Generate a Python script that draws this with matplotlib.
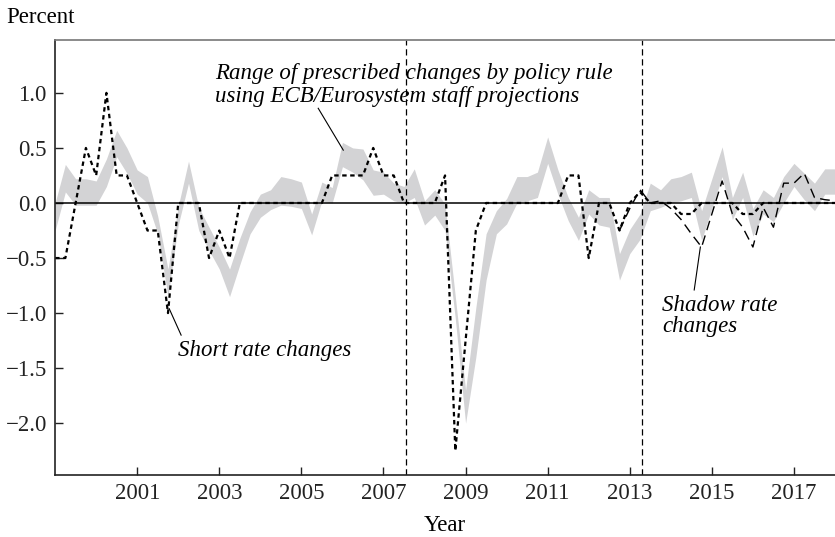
import numpy as np
import matplotlib.pyplot as plt

plt.rcParams['font.family'] = ['Liberation Serif', 'DejaVu Serif']

# quarterly dates, 1999Q1 .. 2018Q1
quarters = 1999.0 + 0.25 * np.arange(77)

# range of prescribed changes by policy rule (lower / upper edge)
rule_low = [
    -0.25, 0.10, -0.02, -0.02, -0.02, 0.15, 0.42, 0.27, 0.08, 0.00,
    -0.28, -0.85, -0.20, 0.18, -0.25, -0.43, -0.60, -0.85, -0.56, -0.28,
    -0.13, -0.06, -0.02, -0.03, -0.05, -0.29, 0.02, 0.00, 0.33, 0.28,
    0.21, 0.07, 0.08, 0.02, 0.00, 0.05, -0.20, -0.11, -0.25, -1.05,
    -2.00, -1.40, -0.70, -0.28, -0.19, 0.00, 0.02, 0.05, 0.36, 0.08,
    -0.16, -0.34, -0.10, -0.20, -0.22, -0.70, -0.46, -0.33, -0.07, -0.04,
    0.00, 0.02, 0.05, -0.34, -0.05, 0.24, -0.15, 0.05, -0.30, -0.10,
    -0.17, 0.00, 0.15, 0.03, -0.07, 0.08, 0.08,
]
rule_high = [
    0.00, 0.35, 0.22, 0.22, 0.20, 0.40, 0.66, 0.50, 0.30, 0.24,
    -0.12, -0.60, -0.03, 0.38, -0.04, -0.22, -0.40, -0.60, -0.32, -0.08,
    0.08, 0.12, 0.24, 0.22, 0.19, -0.10, 0.19, 0.14, 0.55, 0.50,
    0.49, 0.30, 0.28, 0.18, 0.15, 0.31, 0.02, 0.12, -0.01, -0.85,
    -1.70, -0.95, -0.28, -0.07, 0.04, 0.24, 0.24, 0.28, 0.60, 0.30,
    0.05, -0.13, 0.12, 0.05, 0.05, -0.46, -0.24, -0.10, 0.18, 0.12,
    0.22, 0.24, 0.28, -0.07, 0.22, 0.51, 0.05, 0.28, -0.05, 0.12,
    0.05, 0.24, 0.36, 0.27, 0.18, 0.31, 0.31,
]

# short rate changes
short_rate = [
    -0.50, -0.50, 0.00, 0.50, 0.25, 1.00, 0.25, 0.25, 0.00, -0.25,
    -0.25, -1.00, 0.00, 0.00, 0.00, -0.50, -0.25, -0.50, 0.00, 0.00,
    0.00, 0.00, 0.00, 0.00, 0.00, 0.00, 0.00, 0.25, 0.25, 0.25,
    0.25, 0.50, 0.25, 0.25, 0.00, 0.00, 0.00, 0.00, 0.25, -2.25,
    -1.25, -0.25, 0.00, 0.00, 0.00, 0.00, 0.00, 0.00, 0.00, 0.00,
    0.25, 0.25, -0.50, 0.00, 0.00, -0.25, 0.00, 0.10, 0.00, 0.00,
    0.00, -0.10, -0.10, 0.00, 0.00, 0.00, 0.00, -0.10, -0.10, 0.00,
    0.00, 0.00, 0.00, 0.00, 0.00, 0.00, 0.00,
]

# shadow rate changes, 2012Q4 .. 2018Q1
shadow_quarters = quarters[55:]
shadow_rate = [
    -0.25, -0.05, 0.12, 0.00, 0.02, -0.05, -0.15, -0.28, -0.40, -0.10,
    0.20, -0.10, -0.22, -0.40, -0.04, -0.22, 0.18, 0.18, 0.27, 0.05,
    0.03, 0.02,
]

regime_breaks = [2007.55, 2013.3]
year_ticks = list(range(2001, 2018, 2))

fig = plt.figure(figsize=(8.35, 5.37), dpi=100)
ax = fig.add_axes([0.066, 0.1155, 0.934, 0.81])

ax.fill_between(quarters, rule_low, rule_high, color='#d3d3d5', linewidth=0)
ax.axhline(0, color='black', linewidth=1.1)
for xb in regime_breaks:
    ax.axvline(xb, color='black', linewidth=0.9, linestyle=(0, (5, 3)))
ax.plot(quarters, short_rate, color='black', linewidth=1.6,
        linestyle=(0, (2, 1.6)))
ax.plot(shadow_quarters, shadow_rate, color='black', linewidth=1.0,
        linestyle=(0, (7, 4)))

ax.set_xlim(1999, 2018)
ax.set_ylim(-2.47, 1.48)
ax.set_xticks(year_ticks)
ax.set_yticks([-2.0, -1.5, -1.0, -0.5, 0.0, 0.5, 1.0])
ax.set_yticklabels(['\u22122.0', '\u22121.5', '\u22121.0', '\u22120.5',
                    '0.0', '0.5', '1.0'])
ax.tick_params(direction='in', length=6, width=1, labelsize=16.5, pad=6,
               colors='#222222')
ax.spines['right'].set_visible(False)
for side in ['left', 'bottom']:
    ax.spines[side].set_color('#222222')
    ax.spines[side].set_linewidth(1.2)
ax.spines['top'].set_color('#777777')
ax.spines['top'].set_linewidth(1.2)

ax.set_xlabel('Year', fontsize=16.5, labelpad=8)
fig.text(0.008, 0.968, 'Percent', fontsize=16.5, ha='left', va='center')

# annotations
ax.text(2002.9, 1.07, 'Range of prescribed changes by policy rule\n'
        'using ECB/Eurosystem staff projections',
        fontsize=16.5, style='italic', ha='left', va='center',
        linespacing=1.1)
ax.plot([2005.41, 2006.02], [0.86, 0.48], color='black', linewidth=0.8)

ax.text(2002.0, -1.34, 'Short rate changes', fontsize=16.5, style='italic',
        ha='left', va='center')
ax.plot([2001.78, 2002.07], [-0.96, -1.2], color='black', linewidth=0.8)

ax.text(2013.79, -1.03, 'Shadow rate\nchanges', fontsize=16.5,
        style='italic', ha='left', va='center', linespacing=1.0)
ax.plot([2014.72, 2014.57], [-0.4, -0.79], color='black', linewidth=0.8)

fig.savefig('out.png', dpi=100)
